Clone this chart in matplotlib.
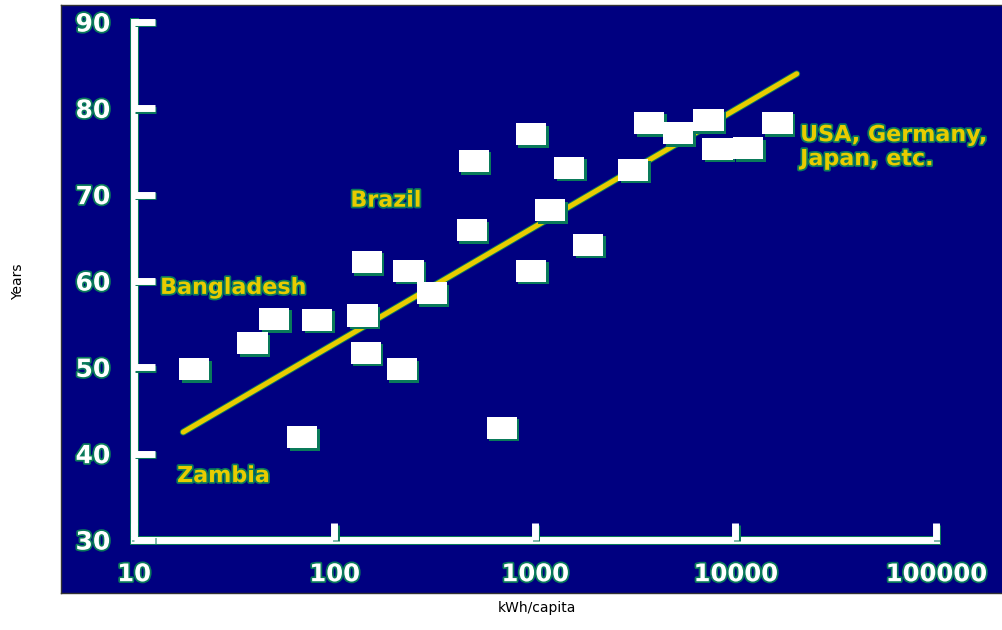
import numpy as np
import matplotlib
matplotlib.use("Agg")
import matplotlib.pyplot as plt
import matplotlib.patheffects as pe
from matplotlib.path import Path

# data
kwh = [20, 39, 50, 82, 69, 138, 145, 143, 234, 216, 305, 484, 495, 955, 955,
       684, 1190, 1480, 1840, 3090, 3720, 5190, 7330, 8130, 11600, 16200]
years = [49.8, 52.8, 55.6, 55.5, 41.9, 56.0, 62.2, 51.7, 61.2, 49.8, 58.6,
         65.9, 73.9, 77.0, 61.2, 43.0, 68.2, 73.1, 64.2, 72.9, 78.3, 77.1,
         78.6, 75.3, 75.4, 78.3]
trend_x = [17.6, 20200]
trend_y = [42.5, 84.0]
xticks = [10, 100, 1000, 10000, 100000]
xticklabels = ["10", "100", "1000", "10000", "100000"]
yticks = [30, 40, 50, 60, 70, 80, 90]
notes = ["Bangladesh", "Brazil", "Zambia", "USA, Germany,\nJapan, etc."]
note_x = [13.5, 120, 16.4, 21000]
note_y = [59.2, 69.3, 37.4, 75.5]

navy = "#000080"
yellow = "#E8CC00"
green = "#0A7A5A"

W, H = 1003, 630
fig = plt.figure(figsize=(W / 100, H / 100), dpi=100)

# navy panel
bg = fig.add_axes([61 / W, (H - 593) / H, 942 / W, 588 / H])
bg.set_facecolor(navy)
bg.set_xticks([])
bg.set_yticks([])
for s in bg.spines.values():
    s.set_color("#333333")
    s.set_linewidth(1)

ax = fig.add_axes([134 / W, (H - 540) / H, 802 / W, 518 / H])
ax.set_facecolor("none")
ax.set_xscale("log")
ax.set_xlim(10, 100000)
ax.set_ylim(30, 90)

outline = [pe.withStroke(linewidth=2.5, foreground=green)]
for name in ["top", "right"]:
    ax.spines[name].set_visible(False)
for name in ["left", "bottom"]:
    ax.spines[name].set_color("white")
    ax.spines[name].set_linewidth(5)
    ax.spines[name].set_path_effects([pe.withStroke(linewidth=6.5, foreground=green)])
    ax.spines[name].set_capstyle("projecting")
    ax.spines[name].set_zorder(1)

ax.set_xticks(xticks)
ax.set_xticklabels(xticklabels)
ax.minorticks_off()
ax.set_yticks(yticks)
ax.tick_params(axis="y", direction="in", length=15, width=5, color="white",
               pad=17, labelsize=18, labelcolor="white")
ax.tick_params(axis="x", direction="in", length=12, width=5, color="white",
               pad=16, labelsize=17.5, labelcolor="white")
ax.xaxis.set_zorder(2)
ax.yaxis.set_zorder(2)
for lab in ax.get_xticklabels() + ax.get_yticklabels():
    lab.set_fontweight("bold")
    lab.set_path_effects(outline)
for t in ax.xaxis.get_major_ticks() + ax.yaxis.get_major_ticks():
    t.tick1line.set_path_effects([pe.SimpleLineShadow(offset=(1, -1), shadow_color=green, alpha=1),
                                  pe.Normal()])

# trend line
ax.plot(trend_x, trend_y, color=yellow, lw=3.6, solid_capstyle="round",
        path_effects=[pe.withStroke(linewidth=5, foreground=green)], zorder=3)

# country squares
rect = Path([(-15, -11), (15, -11), (15, 11), (-15, 11), (-15, -11)],
            [Path.MOVETO, Path.LINETO, Path.LINETO, Path.LINETO, Path.CLOSEPOLY])
ax.scatter(kwh, years, marker=rect, s=470, c="white", linewidths=0, zorder=4,
           path_effects=[pe.SimplePatchShadow(offset=(1.8, -1.8), shadow_rgbFace=green, alpha=1),
                         pe.Normal()])

for t, x, y in zip(notes, note_x, note_y):
    ax.text(x, y, t, color=yellow, fontsize=16, fontweight="bold", ha="left",
            va="center", linespacing=1.25, path_effects=outline, zorder=5)

fig.text(18 / W, 1 - 282 / H, "Years", rotation=90, ha="center", va="center", fontsize=10)
fig.text(537 / W, 1 - 608 / H, "kWh/capita", ha="center", va="center", fontsize=10)

fig.savefig("out.png", dpi=100)
